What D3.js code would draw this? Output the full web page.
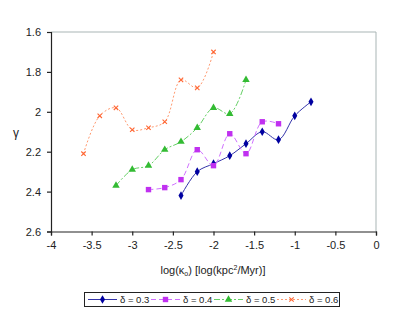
<!DOCTYPE html>
<html><head><meta charset="utf-8">
<script src="https://cdn.jsdelivr.net/npm/d3@7"></script>
<style>body{margin:0;background:#fff}svg{display:block}text{font-family:"Liberation Sans",Arial,sans-serif;fill:#222}</style>
</head><body><svg id="c" width="399" height="324"></svg>
<script>
const seriesNames = ["δ = 0.3", "δ = 0.4", "δ = 0.5", "δ = 0.6"];
const x03 = [-2.4,-2.2,-2.0,-1.8,-1.6,-1.4,-1.2,-1.0,-0.8];
const y03 = [2.42,2.30,2.26,2.22,2.16,2.10,2.14,2.02,1.95];
const x04 = [-2.8,-2.6,-2.4,-2.2,-2.0,-1.8,-1.6,-1.4,-1.2];
const y04 = [2.39,2.38,2.34,2.19,2.27,2.11,2.21,2.05,2.06];
const x05 = [-3.2,-3.0,-2.8,-2.6,-2.4,-2.2,-2.0,-1.8,-1.6];
const y05 = [2.37,2.29,2.27,2.19,2.15,2.08,1.98,2.01,1.84];
const x06 = [-3.6,-3.4,-3.2,-3.0,-2.8,-2.6,-2.4,-2.2,-2.0];
const y06 = [2.21,2.02,1.98,2.09,2.08,2.05,1.84,1.88,1.70];
const xTicks = [-4,-3.5,-3,-2.5,-2,-1.5,-1,-0.5,0];
const yTicks = [1.6,1.8,2,2.2,2.4,2.6];

const svg = d3.select("#c");
const L=51,R=376,T=32,B=231.5;
const x = d3.scaleLinear().domain([-4,0]).range([L,R]);
const y = d3.scaleLinear().domain([1.6,2.6]).range([T,B]);

svg.append("path").attr("d",`M${L},${T}H${R}V${B}`).attr("fill","none").attr("stroke","#a9b5b5").attr("stroke-width",1);

const fmt = d=>String(d);
const xa = svg.append("g").attr("transform",`translate(0,${B})`).call(d3.axisBottom(x).tickValues(xTicks).tickSize(4).tickPadding(6).tickFormat(fmt));
const ya = svg.append("g").attr("transform",`translate(${L},0)`).call(d3.axisLeft(y).tickValues(yTicks).tickSize(4).tickPadding(6).tickFormat(fmt));
[xa,ya].forEach(a=>{a.selectAll("path,line").attr("stroke","#222").attr("stroke-width",1.2);a.selectAll("text").attr("font-size",11).attr("font-family","Liberation Sans, Arial, sans-serif").attr("fill","#333");});
ya.selectAll("text").attr("dy","0.35em");

svg.append("text").attr("x",16).attr("y",137).attr("text-anchor","middle").attr("font-size",12).attr("fill","#333").text("γ");
const xl = svg.append("text").attr("x",213).attr("y",274).attr("text-anchor","middle").attr("font-size",11).attr("fill","#333");
xl.append("tspan").text("log(κ");
xl.append("tspan").attr("font-size",7).attr("dy",2).text("o");
xl.append("tspan").attr("dy",-2).text(") [log(kpc");
xl.append("tspan").attr("font-size",7).attr("dy",-4).text("2");
xl.append("tspan").attr("dy",4).text("/Myr)]");

const series = [
 {xs:x03,ys:y03,color:"#3333aa",mcolor:"#0000a0",dash:null,marker:"diamond"},
 {xs:x04,ys:y04,color:"#d070ff",mcolor:"#c030f0",dash:"5,3",marker:"square"},
 {xs:x05,ys:y05,color:"#66d066",mcolor:"#33bb33",dash:"6,2,2,2",marker:"triangle"},
 {xs:x06,ys:y06,color:"#ff9a70",mcolor:"#ff6633",dash:"2,2",marker:"x"}
];
const line = d3.line().curve(d3.curveCatmullRom.alpha(0.5));

function marker(g,type,cx,cy,color){
  if(type==="diamond") g.append("path").attr("d",d3.symbol(d3.symbolDiamond,22)()).attr("transform",`translate(${cx},${cy})`).attr("fill",color);
  else if(type==="square") g.append("rect").attr("x",cx-2.7).attr("y",cy-2.7).attr("width",5.4).attr("height",5.4).attr("fill",color);
  else if(type==="triangle") g.append("path").attr("d",d3.symbol(d3.symbolTriangle,24)()).attr("transform",`translate(${cx},${cy})`).attr("fill",color);
  else { g.append("path").attr("d",`M${cx-2.2},${cy-2.2}L${cx+2.2},${cy+2.2}M${cx-2.2},${cy+2.2}L${cx+2.2},${cy-2.2}`).attr("stroke",color).attr("stroke-width",1.1); }
}

series.forEach(s=>{
  const pts = s.xs.map((v,i)=>[x(v),y(s.ys[i])]);
  svg.append("path").attr("d",line(pts)).attr("fill","none").attr("stroke",s.color).attr("stroke-width",1).attr("stroke-dasharray",s.dash);
  const g=svg.append("g");
  pts.forEach(p=>marker(g,s.marker,p[0],p[1],s.mcolor));
});

const lg = svg.append("g");
lg.append("rect").attr("x",84.5).attr("y",292.5).attr("width",255).attr("height",14).attr("fill","#fff").attr("stroke","#222").attr("stroke-width",1);
series.forEach((s,i)=>{
  const x0 = 88 + i*63;
  lg.append("line").attr("x1",x0).attr("x2",x0+29).attr("y1",299.5).attr("y2",299.5).attr("stroke",s.color).attr("stroke-width",1).attr("stroke-dasharray",s.dash);
  marker(lg,s.marker,x0+14.5,299.5,s.mcolor);
  lg.append("text").attr("x",x0+32).attr("y",303).attr("font-size",9.5).attr("fill","#222").text(seriesNames[i]);
});
</script></body></html>
